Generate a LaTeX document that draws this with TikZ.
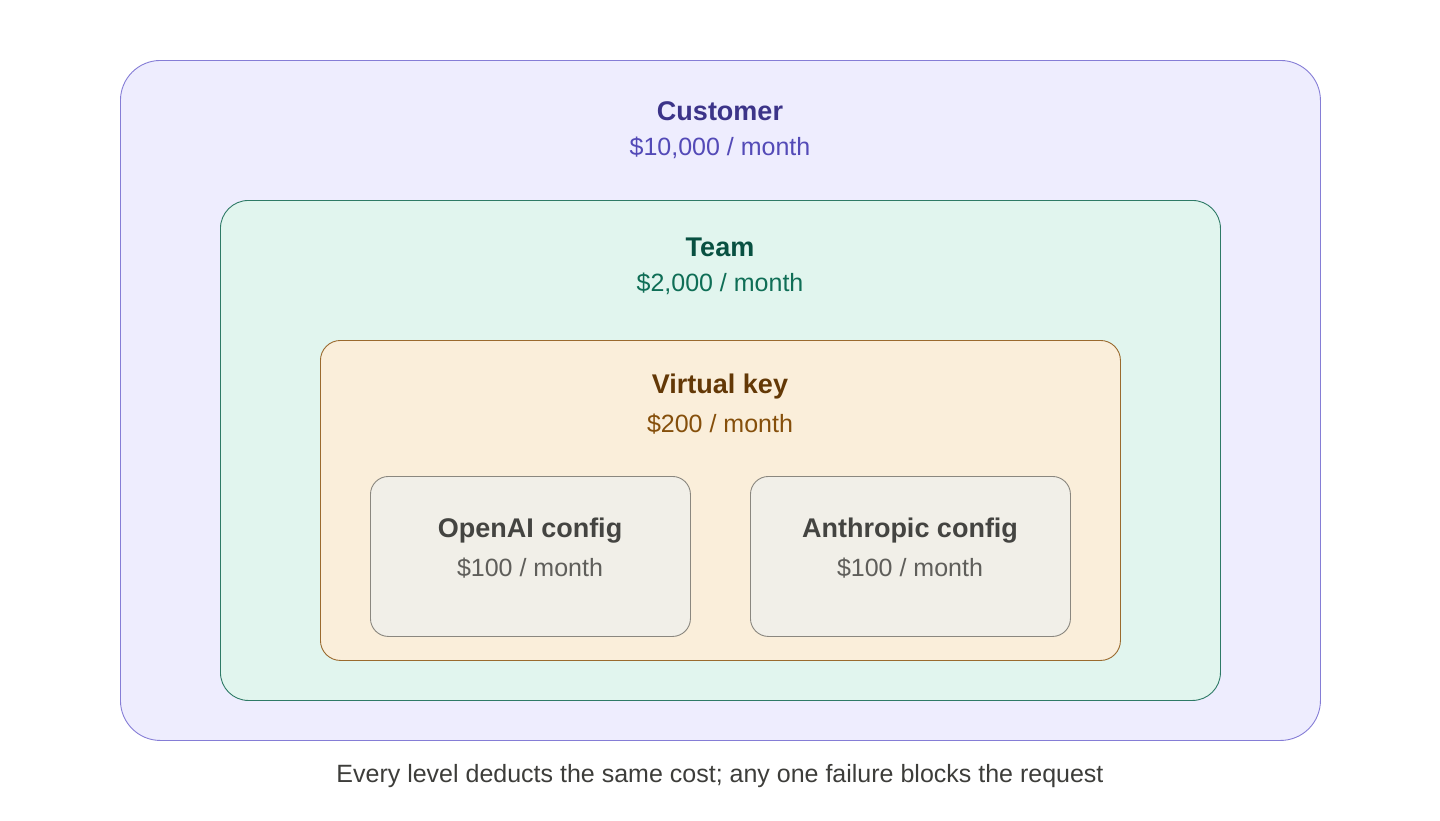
\documentclass[tikz,border=0pt]{standalone}
\usepackage{fontspec}
\setmainfont{Liberation Sans}
\definecolor{custfill}{HTML}{EEEDFE}
\definecolor{custline}{HTML}{857DD6}
\definecolor{custtitle}{HTML}{3C3489}
\definecolor{custsub}{HTML}{534AB7}
\definecolor{teamfill}{HTML}{E1F5EE}
\definecolor{teamline}{HTML}{2E7A66}
\definecolor{teamtitle}{HTML}{085041}
\definecolor{teamsub}{HTML}{0F6E56}
\definecolor{vkfill}{HTML}{FAEEDA}
\definecolor{vkline}{HTML}{9A6A2E}
\definecolor{vktitle}{HTML}{633806}
\definecolor{vksub}{HTML}{854F0B}
\definecolor{cfgfill}{HTML}{F1EFE8}
\definecolor{cfgline}{HTML}{8A877F}
\definecolor{cfgtitle}{HTML}{444441}
\definecolor{cfgsub}{HTML}{5F5E5A}
\definecolor{captext}{HTML}{3D3D3A}
\begin{document}
\begin{tikzpicture}[x=1pt,y=-1pt,
  level/.style={draw, line width=0.9pt, inner sep=0pt, anchor=north west},
  ttl/.style={font=\fontsize{27}{32}\selectfont\bfseries, inner sep=0pt, anchor=center},
  sub/.style={font=\fontsize{25}{30}\selectfont, inner sep=0pt, anchor=center}]
\useasboundingbox (0,0) rectangle (1440,820);
\node[level, fill=custfill, draw=custline, rounded corners=40pt, minimum width=1200pt, minimum height=680pt] (cust) at (120,60) {};
\node[level, fill=teamfill, draw=teamline, rounded corners=28pt, minimum width=1000pt, minimum height=500pt] (team) at (220,200) {};
\node[level, fill=vkfill, draw=vkline, rounded corners=20pt, minimum width=800pt, minimum height=320pt] (vk) at (320,340) {};
\node[level, fill=cfgfill, draw=cfgline, rounded corners=18pt, minimum width=320pt, minimum height=160pt] (oai) at (370,476) {};
\node[level, fill=cfgfill, draw=cfgline, rounded corners=18pt, minimum width=320pt, minimum height=160pt] (ant) at (750,476) {};
\node[ttl, text=custtitle] (custt) at (720,111) {Customer};
\node[sub, text=custsub] (custs) at (720,148) {\$10,000 / month};
\node[ttl, text=teamtitle] (teamt) at (720,247) {Team};
\node[sub, text=teamsub] (teams) at (720,284) {\$2,000 / month};
\node[ttl, text=vktitle] (vkt) at (720,387) {Virtual key};
\node[sub, text=vksub] (vks) at (720,424) {\$200 / month};
\node[ttl, text=cfgtitle] (oait) at (530,531) {OpenAI config};
\node[sub, text=cfgsub] (oais) at (530,568) {\$100 / month};
\node[ttl, text=cfgtitle] (antt) at (910,531) {Anthropic config};
\node[sub, text=cfgsub] (ants) at (910,568) {\$100 / month};
\node[sub, text=captext] (cap) at (720,776) {Every level deducts the same cost; any one failure blocks the request};
\end{tikzpicture}
\end{document}
